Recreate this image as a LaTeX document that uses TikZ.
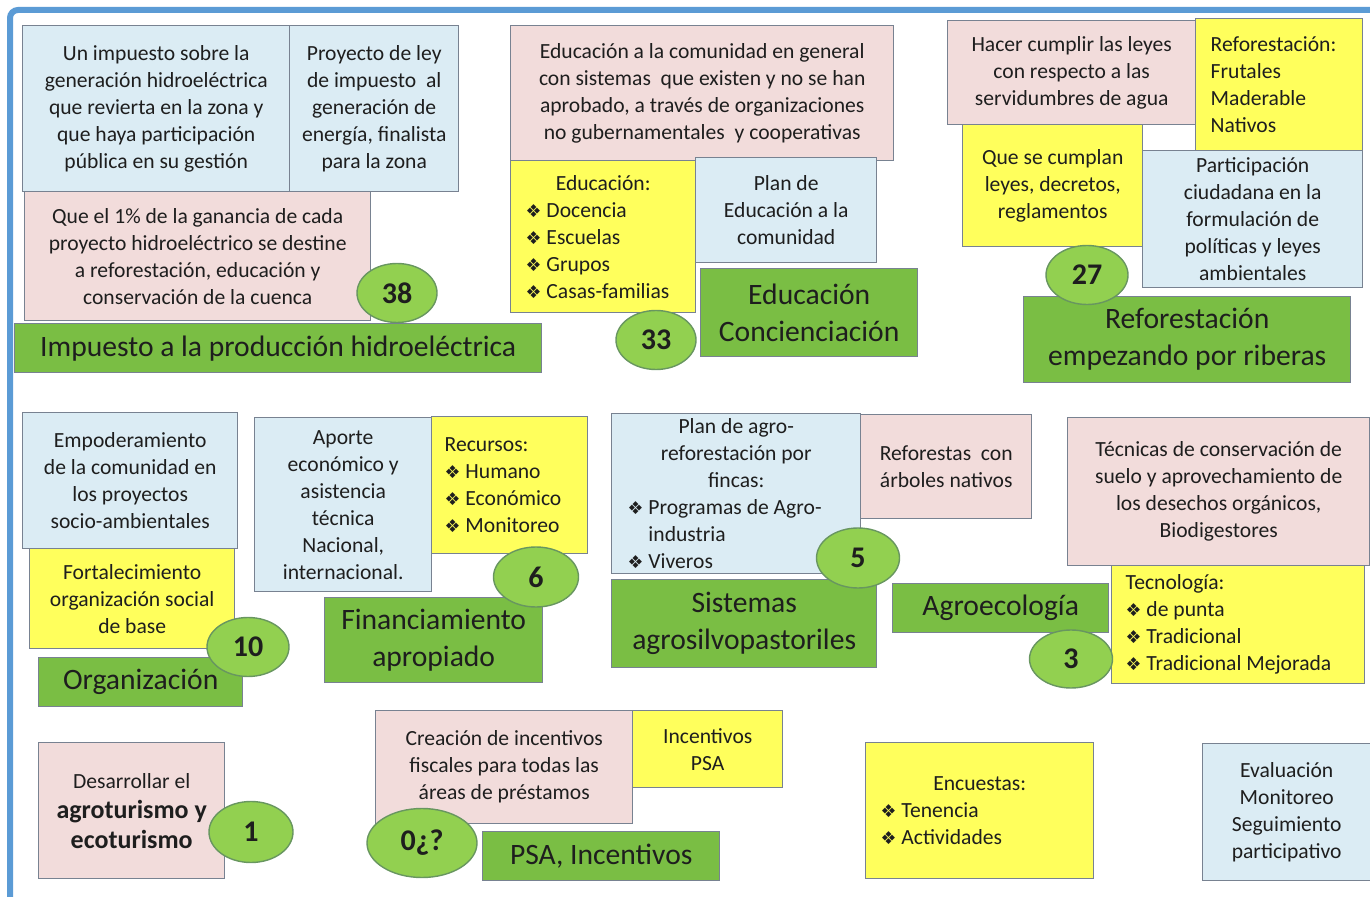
\documentclass[tikz,border=0pt]{standalone}
\usepackage{fontspec}
\setmainfont{Carlito}
\newfontfamily\symfont{DejaVu Sans}
\usepackage{xcolor}
\definecolor{frameblue}{RGB}{91,155,213}
\definecolor{pinkbox}{RGB}{242,220,219}
\definecolor{bluebox}{RGB}{219,236,244}
\definecolor{yellowbox}{RGB}{255,255,92}
\definecolor{greenbox}{RGB}{122,190,68}
\definecolor{greenoval}{RGB}{146,208,80}
\definecolor{ovaledge}{RGB}{104,150,96}
\definecolor{boxedge}{RGB}{120,130,145}
\definecolor{ink}{RGB}{30,30,30}
\usepackage{tikz}
\usetikzlibrary{shapes.geometric}
\newcommand{\bul}{{\symfont\scalebox{0.82}{❖}}\ }
\newcommand{\midline}[1]{\hspace*{\stretch{1}}#1\hspace*{\stretch{1}}\null}
\tikzset{
  card/.style={draw=boxedge,line width=0.7pt,anchor=north west,inner sep=2pt,align=center,text=ink,font=\fontsize{10.8}{13.5}\selectfont},
  boxsize/.style 2 args={minimum width=#1*0.5pt,minimum height=#2*0.5pt},
  pinkcard/.style={card,fill=pinkbox},
  bluecard/.style={card,fill=bluebox},
  yellowcard/.style={card,fill=yellowbox},
  listcard/.style={align=flush left,inner xsep=#1},
  topic/.style={card,fill=greenbox,font=\fontsize{14.8}{18.5}\selectfont},
  score/.style={ellipse,draw=ovaledge,line width=0.7pt,fill=greenoval,inner sep=0pt,text=ink,font=\fontsize{15}{15}\selectfont\bfseries},
}
\begin{document}
\begin{tikzpicture}[x=0.5pt,y=-0.5pt]
\useasboundingbox (0,0) rectangle (1370,897);
%frame
\draw [frameblue,line width=3pt,rounded corners=4pt] (1372,10) -- (10,10) -- (10,899);

%hydroelectric tax
\node (hydA) [bluecard,boxsize={267}{166}] at (22,25) {Un impuesto sobre la\\generación hidroeléctrica\\que revierta en la zona y\\que haya participación\\pública en su gestión};
\node (hydB) [bluecard,boxsize={169}{166}] at (289,25) {Proyecto de ley\\de impuesto~ al\\generación de\\energía, finalista\\para la zona};
\node (hydC) [pinkcard,boxsize={346}{129}] at (24,191) {Que el 1\% de la ganancia de cada\\proyecto hidroeléctrico se destine\\a reforestación, educación y\\conservación de la cuenca};
\node (hydT) [topic,boxsize={527}{49}] at (14,323) {Impuesto a la producción hidroeléctrica};

%education
\node (eduA) [pinkcard,boxsize={383}{135}] at (510,25) {Educación a la comunidad en general\\con sistemas~ que existen y no se han\\aprobado, a través de organizaciones\\no gubernamentales~ y cooperativas};
\node (eduB) [yellowcard,listcard=7.5pt,text width=77.5pt,boxsize={185}{152}] at (510,160) {\midline{Educación:}\\\bul Docencia\\\bul Escuelas\\\bul Grupos\\\bul Casas-familias};
\node (eduC) [bluecard,boxsize={181}{105}] at (695,157) {Plan de\\Educación a la\\comunidad};
\node (eduT) [topic,boxsize={217}{88}] at (700,268) {Educación\\Concienciación};

%reforestation
\node (refA) [pinkcard,boxsize={248}{104}] at (947,20) {Hacer cumplir las leyes\\con respecto a las\\servidumbres de agua};
\node (refB) [yellowcard,listcard=7.5pt,text width=68.5pt,boxsize={167}{132}] at (1195,18) {Reforestación:\\Frutales\\Maderable\\Nativos};
\node (refC) [yellowcard,boxsize={180}{122}] at (962,124) {Que se cumplan\\leyes, decretos,\\reglamentos};
\node (refD) [bluecard,boxsize={220}{137}] at (1142,150) {Participación\\ciudadana en la\\formulación de\\políticas y leyes\\ambientales};
\node (refT) [topic,boxsize={327}{86}] at (1023,296) {Reforestación\\empezando por riberas};

%organization
\node (orgA) [bluecard,boxsize={215}{136}] at (22,412) {Empoderamiento\\de la comunidad en\\los proyectos\\socio-ambientales};
\node (orgB) [yellowcard,boxsize={205}{100}] at (29,548) {Fortalecimiento\\organización social\\de base};
\node (orgT) [topic,boxsize={204}{49}] at (38,657) {Organización};

%funding
\node (finA) [bluecard,boxsize={177}{174}] at (254,417) {Aporte\\económico y\\asistencia\\técnica\\Nacional,\\internacional.};
\node (finB) [yellowcard,listcard=6.5pt,text width=65pt,boxsize={156}{137}] at (431,416) {Recursos:\\\bul Humano\\\bul Económico\\\bul Monitoreo};
\node (finT) [topic,boxsize={218}{85}] at (324,597) {Financiamiento\\apropiado};

%agrosilvopastoral
\node (agsA) [bluecard,listcard=8pt,text width=108.5pt,boxsize={249}{160}] at (611,413) {\midline{Plan de agro-}\\\midline{reforestación por}\\\midline{fincas:}\\\bul Programas de Agro-\\\hphantom{\bul}industria\\\bul Viveros};
\node (agsB) [pinkcard,boxsize={171}{104}] at (860,414) {Reforestas~ con\\árboles nativos};
\node (agsT) [topic,boxsize={265}{88}] at (611,579) {Sistemas\\agrosilvopastoriles};

%agroecology
\node (agrA) [pinkcard,boxsize={302}{148}] at (1067,417) {Técnicas de conservación de\\suelo y aprovechamiento de\\los desechos orgánicos,\\Biodigestores};
\node (agrB) [yellowcard,listcard=7pt,text width=112.5pt,boxsize={253}{118}] at (1111,565) {Tecnología:\\\bul de punta\\\bul Tradicional\\\bul Tradicional Mejorada};
\node (agrT) [topic,boxsize={216}{49}] at (892,583) {Agroecología};

%tourism
\node (turA) [pinkcard,boxsize={186}{136},font=\fontsize{10.8}{15}\selectfont] at (38,742) {Desarrollar el\\{\fontsize{13}{15}\selectfont\bfseries agroturismo y}\\{\fontsize{13}{15}\selectfont\bfseries ecoturismo}};

%incentives
\node (psaA) [pinkcard,boxsize={257}{113}] at (375,710) {Creación de incentivos\\fiscales para todas las\\áreas de préstamos};
\node (psaB) [yellowcard,boxsize={150}{77}] at (632,710) {Incentivos\\PSA};
\node (psaT) [topic,boxsize={237}{49}] at (482,831) {PSA, Incentivos};

%surveys and evaluation
\node (encA) [yellowcard,listcard=7.5pt,text width=99pt,boxsize={228}{136}] at (865,742) {\midline{Encuestas:}\\\bul Tenencia\\\bul Actividades};
\node (evaA) [bluecard,boxsize={168}{137}] at (1202,743) {Evaluación\\Monitoreo\\Seguimiento\\participativo};

%scores
\node (n38) [score,boxsize={80}{59}] at (397,293) {38};
\node (n33) [score,boxsize={80}{59}] at (656,340) {33};
\node (n27) [score,boxsize={82}{59}] at (1087,275) {27};
\node (n10) [score,boxsize={82}{59}] at (248,647) {10};
\node (n6) [score,boxsize={85}{60}] at (536,577) {6};
\node (n5) [score,boxsize={83}{60}] at (858,558) {5};
\node (n3) [score,boxsize={83}{58}] at (1071,659) {3};
\node (n1) [score,boxsize={84}{61}] at (251,832) {1};
\node (n0) [score,boxsize={110}{69}] at (422,843) {0¿?};
\end{tikzpicture}
\end{document}
